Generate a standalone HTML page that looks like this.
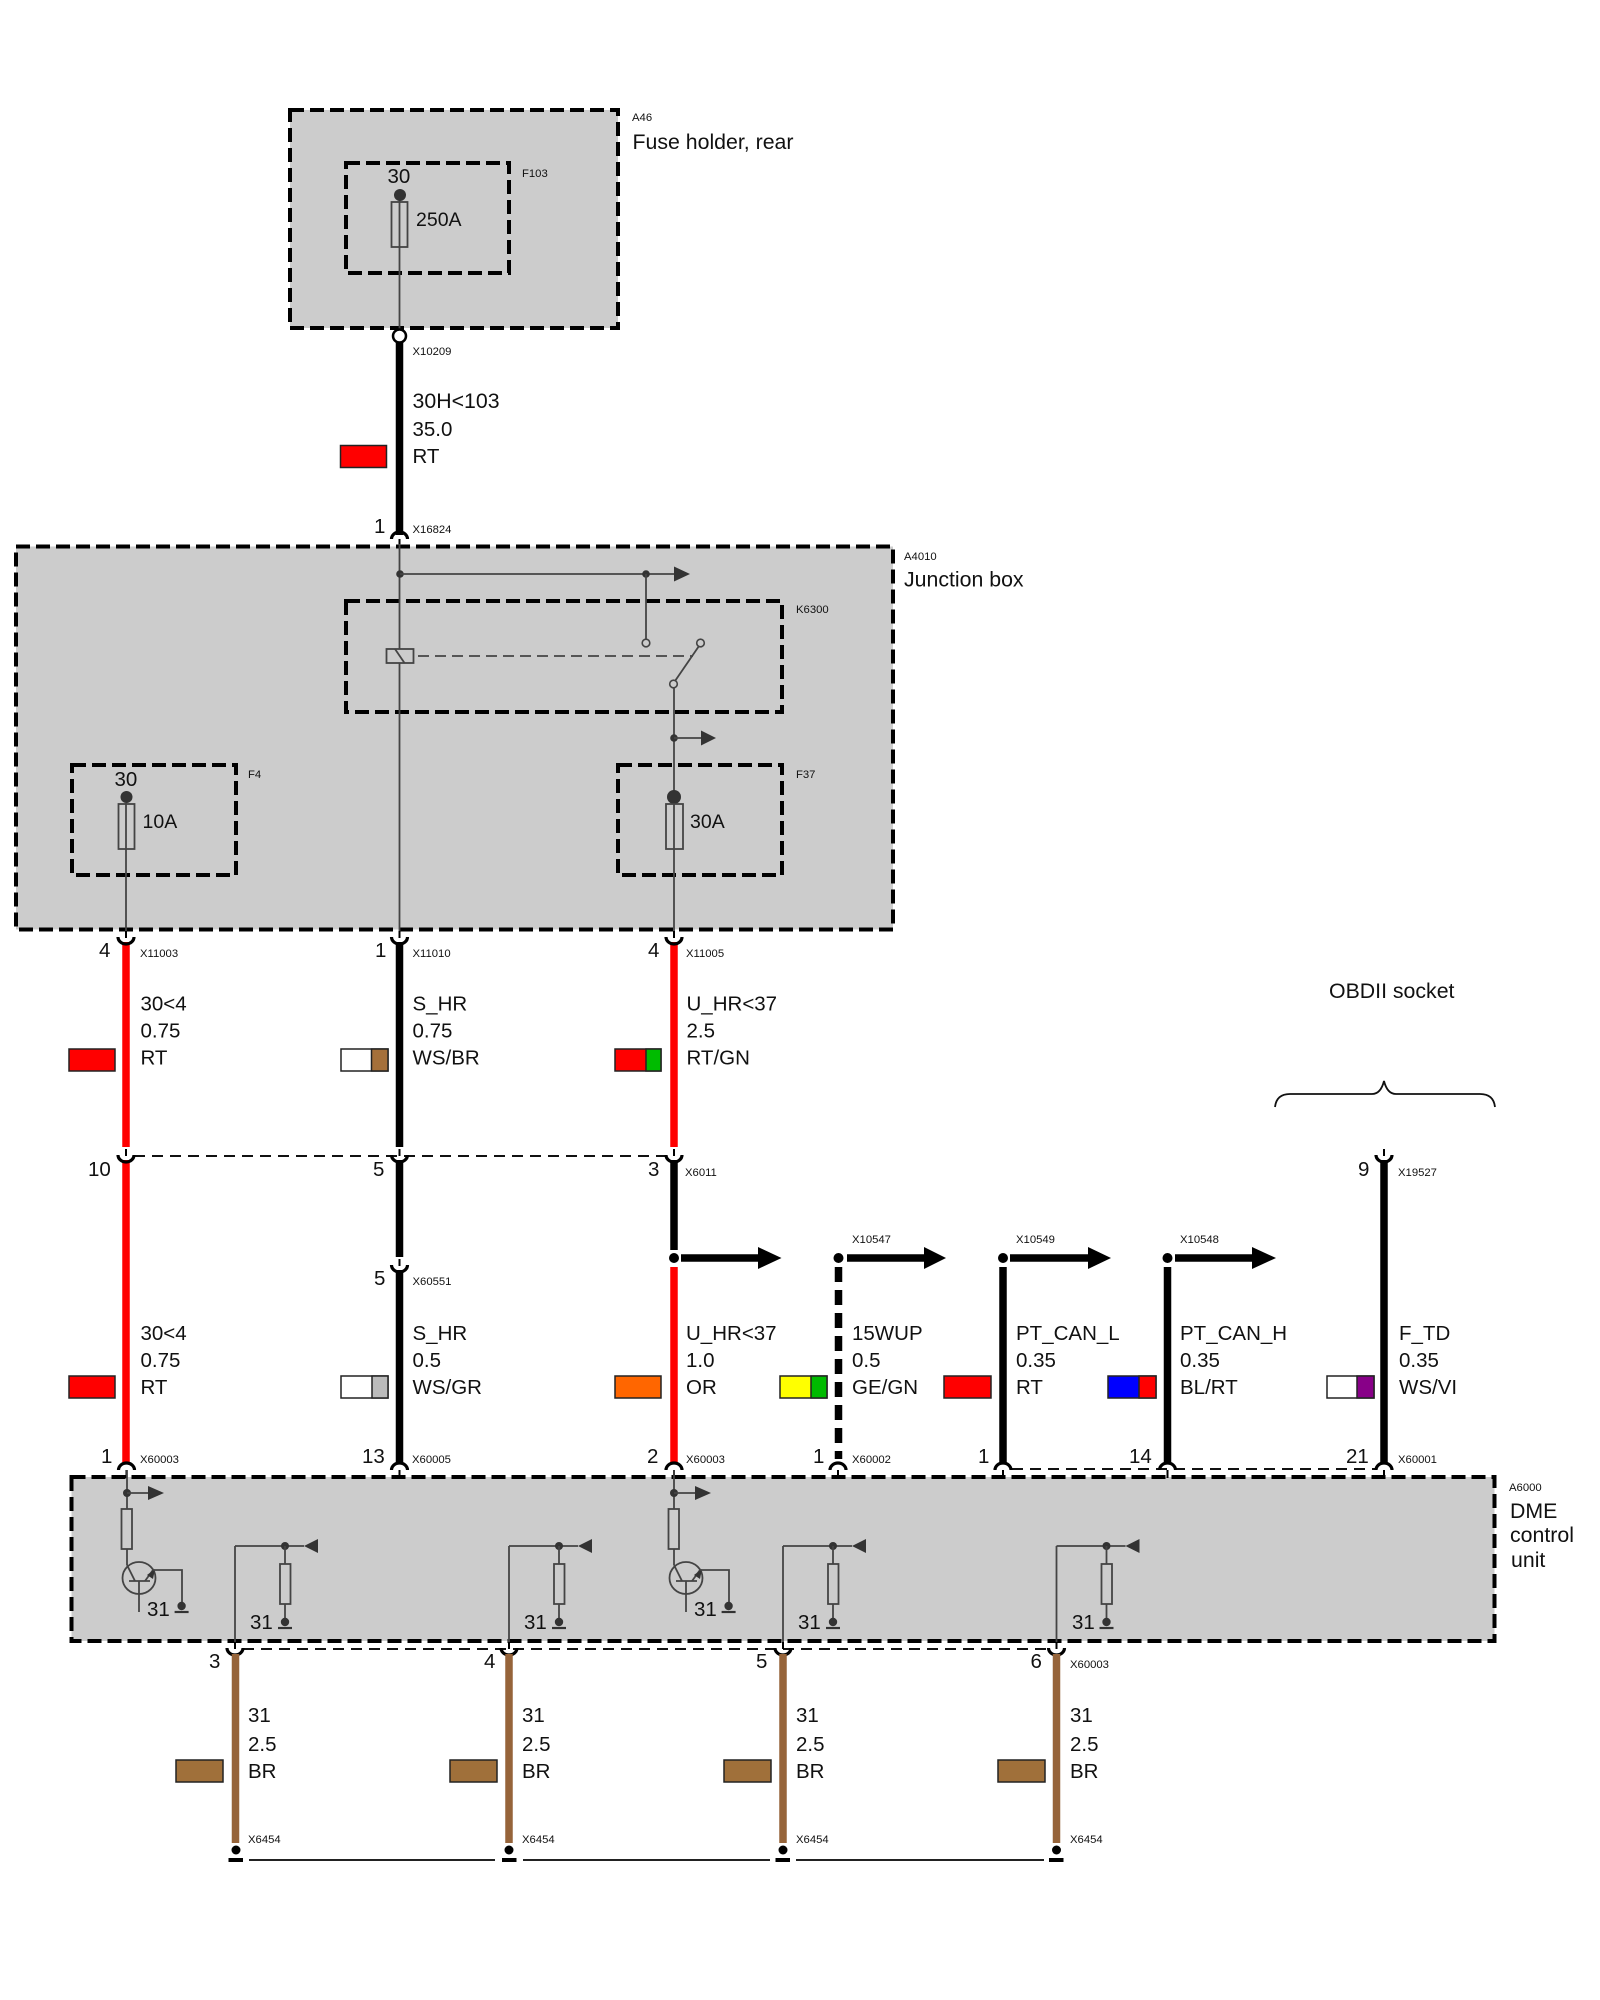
<!DOCTYPE html>
<html><head><meta charset="utf-8"><style>
html,body{margin:0;padding:0;background:#fff;width:1600px;height:2000px;overflow:hidden}
svg{display:block}
text{font-family:"Liberation Sans",sans-serif;font-size:20.5px;fill:#111}
text.s{font-size:11.3px}
text.b{font-size:21.3px}
text.m{font-size:19.5px}
.box{fill:#ccc;stroke:#000;stroke-width:4;stroke-dasharray:14 6}
.in{fill:none;stroke:#000;stroke-width:4;stroke-dasharray:14 6}
.t{stroke:#444;stroke-width:1.8;fill:none}
.f{stroke:#444;stroke-width:1.8;fill:#ccc}
.d{fill:#333}
.sw{stroke:#222;stroke-width:1.5}
.cn{fill:none;stroke:#000;stroke-width:3.2}
.tk{stroke:#000;stroke-width:2}
.dl{stroke:#111;stroke-width:2;stroke-dasharray:11 7}
</style></head><body>
<svg xmlns="http://www.w3.org/2000/svg" width="1600" height="2000" viewBox="0 0 1600 2000">
<defs>
<g id="cu"><path class="cn" d="M-8,0A8,7 0 0 0 8,0"/><line class="tk" x1="0" y1="-6" x2="0" y2="1"/></g>
<g id="cd"><path class="cn" d="M-8,0A8,7 0 0 1 8,0"/><line class="tk" x1="0" y1="0" x2="0" y2="8"/></g>
<g id="gn"><circle class="d" cx="0" cy="0" r="4.2"/><line x1="-7" y1="6" x2="7" y2="6" stroke="#333" stroke-width="2.2"/></g>
<g id="el">
<line class="t" x1="0" y1="1546" x2="0" y2="1646"/>
<line class="t" x1="0" y1="1546" x2="69" y2="1546"/>
<circle class="d" cx="50" cy="1546" r="4"/>
<polygon fill="#333" points="69,1546 83,1539 83,1553"/>
<line class="t" x1="50" y1="1546" x2="50" y2="1622"/>
<rect class="f" x="45" y="1564" width="10.5" height="40"/>
<use href="#gn" x="50" y="1622"/>
</g>
<g id="tr">
<line class="t" x1="127" y1="1470" x2="127" y2="1509"/>
<circle class="d" cx="127" cy="1493" r="4"/>
<line class="t" x1="127" y1="1493" x2="150" y2="1493"/>
<polygon fill="#333" points="148,1486 164,1493 148,1500"/>
<rect class="f" x="121.5" y="1509" width="10.5" height="40"/>
<line class="t" x1="127" y1="1549" x2="127" y2="1565"/>
<ellipse class="t" cx="139" cy="1578" rx="16.5" ry="16"/>
<line class="t" x1="127" y1="1565" x2="135" y2="1581"/>
<line class="t" x1="129" y1="1581" x2="150" y2="1581"/>
<line class="t" x1="145" y1="1581" x2="153" y2="1570"/>
<polygon fill="#333" points="155,1569 153,1579 147,1575"/>
<polyline class="t" points="153,1570 182,1570 182,1606"/>
<line class="t" x1="139" y1="1581" x2="139" y2="1612"/>
<use href="#gn" x="181.6" y="1606"/>
</g>
</defs>

<!-- A46 -->
<rect class="box" x="290" y="110" width="328" height="218"/>
<rect class="in" x="346" y="163" width="163" height="110"/>
<line class="t" x1="399.500" y1="195" x2="399.500" y2="330"/>
<circle class="d" cx="400" cy="195" r="6"/>
<rect class="t" x="391.500" y="202" width="16" height="45"/>
<text x="387.500" y="183">30</text>
<text class="m" x="416" y="226">250A</text>
<text class="s" x="522" y="177">F103</text>
<text class="s" x="632" y="121">A46</text>
<text class="b" x="632.500" y="149">Fuse holder, rear</text>

<line x1="399.500" y1="340" x2="399.500" y2="535" stroke="#000" stroke-width="7.500"/>
<circle cx="399.500" cy="336" r="6.500" fill="#fff" stroke="#000" stroke-width="2.500"/>
<text class="s" x="412.500" y="355">X10209</text>
<text class="b" x="412.500" y="408">30H&lt;103</text>
<text x="412.500" y="436">35.0</text>
<text x="412.500" y="463">RT</text>
<rect class="sw" x="340.500" y="445.500" width="46" height="22" fill="#f00"/>
<text x="374" y="533">1</text>
<text class="s" x="412.500" y="533">X16824</text>

<!-- A4010 -->
<rect class="box" x="16" y="546.500" width="877" height="383"/>
<use href="#cd" x="399.500" y="539"/>
<rect class="in" x="346" y="601" width="436" height="111"/>
<rect class="in" x="72" y="765" width="164" height="110"/>
<rect class="in" x="618" y="765" width="164" height="110"/>
<line class="t" x1="399.500" y1="544" x2="399.500" y2="935"/>
<circle class="d" cx="400" cy="574" r="3.800"/>
<line class="t" x1="400" y1="574" x2="675" y2="574"/>
<polygon fill="#333" points="674,566.500 690,574 674,581.500"/>
<circle class="d" cx="646" cy="574" r="3.800"/>
<line class="t" x1="646" y1="574" x2="646" y2="639"/>
<circle cx="646" cy="643" r="3.800" fill="#ccc" stroke="#444" stroke-width="1.600"/>
<circle cx="700.500" cy="643" r="3.800" fill="#ccc" stroke="#444" stroke-width="1.600"/>
<line class="t" x1="699" y1="646" x2="675" y2="681"/>
<circle cx="673.500" cy="684" r="3.800" fill="#ccc" stroke="#444" stroke-width="1.600"/>
<line class="t" x1="674" y1="688" x2="674" y2="935"/>
<rect class="f" x="386.500" y="649" width="27" height="14"/>
<line class="t" x1="395" y1="649" x2="404.500" y2="663"/>
<line x1="418" y1="656" x2="693" y2="656" stroke="#444" stroke-width="1.800" stroke-dasharray="11 6"/>
<circle class="d" cx="674" cy="738" r="3.800"/>
<line class="t" x1="674" y1="738" x2="703" y2="738"/>
<polygon fill="#333" points="701,730.500 716,738 701,745.500"/>
<!-- F4 -->
<circle class="d" cx="126.500" cy="797" r="6"/>
<rect class="t" x="118.500" y="804" width="16" height="45"/>
<line class="t" x1="126" y1="803" x2="126" y2="935"/>
<text x="114.500" y="786">30</text>
<text class="m" x="142.500" y="828">10A</text>
<text class="s" x="248" y="778">F4</text>
<!-- F37 -->
<circle class="d" cx="674" cy="797" r="7"/>
<rect class="t" x="666" y="804" width="17" height="45"/>
<text class="m" x="690" y="828">30A</text>
<text class="s" x="796" y="778">F37</text>
<text class="s" x="796" y="613">K6300</text>
<text class="s" x="904" y="560">A4010</text>
<text class="b" x="904" y="586.500">Junction box</text>

<!-- wires row 1 -->
<line x1="126" y1="942" x2="126" y2="1147" stroke="#f00" stroke-width="7.500"/>
<line x1="399.500" y1="942" x2="399.500" y2="1147" stroke="#000" stroke-width="7.500"/>
<line x1="674" y1="942" x2="674" y2="1147" stroke="#f00" stroke-width="7.500"/>
<use href="#cu" x="126" y="937"/>
<use href="#cu" x="399.500" y="937"/>
<use href="#cu" x="674" y="937"/>
<text x="99" y="957">4</text><text class="s" x="140" y="957">X11003</text>
<text x="375" y="957">1</text><text class="s" x="412.500" y="957">X11010</text>
<text x="648" y="957">4</text><text class="s" x="686" y="957">X11005</text>

<text x="140.500" y="1010.500">30&lt;4</text><text x="140.500" y="1037.500">0.75</text><text x="140.500" y="1064.500">RT</text>
<rect class="sw" x="69" y="1049" width="46" height="22" fill="#f00"/>
<text x="412.500" y="1010.500">S_HR</text><text x="412.500" y="1037.500">0.75</text><text x="412.500" y="1064.500">WS/BR</text>
<rect class="sw" x="341" y="1049" width="47" height="22" fill="#fff"/><rect class="sw" x="371.500" y="1049" width="16.500" height="22" fill="#a5703a"/>
<text x="686.500" y="1010.500">U_HR&lt;37</text><text x="686.500" y="1037.500">2.5</text><text x="686.500" y="1064.500">RT/GN</text>
<rect class="sw" x="615" y="1049" width="46" height="22" fill="#f00"/><rect class="sw" x="646" y="1049" width="15" height="22" fill="#0b0"/>

<!-- middle -->
<line class="dl" x1="134" y1="1156" x2="666" y2="1156"/>
<line x1="126" y1="1160" x2="126" y2="1463" stroke="#f00" stroke-width="7.500"/>
<line x1="399.500" y1="1160" x2="399.500" y2="1257" stroke="#000" stroke-width="7.500"/>
<line x1="674" y1="1160" x2="674" y2="1250" stroke="#000" stroke-width="7.500"/>
<use href="#cu" x="126" y="1155"/>
<use href="#cu" x="399.500" y="1155"/>
<use href="#cu" x="674" y="1155"/>
<text x="88" y="1176">10</text><text x="373" y="1176">5</text><text x="648" y="1176">3</text>
<text class="s" x="685" y="1176">X6011</text>

<use href="#cu" x="399.500" y="1265"/>
<line x1="399.500" y1="1270" x2="399.500" y2="1463" stroke="#000" stroke-width="7.500"/>
<text x="374" y="1285">5</text><text class="s" x="412.500" y="1285">X60551</text>

<!-- branch arrows -->
<circle cx="674" cy="1258" r="5" fill="#000"/>
<line x1="681" y1="1258" x2="760" y2="1258" stroke="#000" stroke-width="7.500"/>
<polygon points="758,1247 781.500,1258 758,1269"/>
<line x1="674" y1="1267" x2="674" y2="1463" stroke="#f00" stroke-width="7.500"/>
<circle cx="838.500" cy="1258" r="5" fill="#000"/>
<line x1="847" y1="1258" x2="926" y2="1258" stroke="#000" stroke-width="7.500"/>
<polygon points="924,1247 946,1258 924,1269"/>
<line x1="838.500" y1="1267" x2="838.500" y2="1459" stroke="#000" stroke-width="7.500" stroke-dasharray="15 8"/>
<circle cx="1003" cy="1258" r="5" fill="#000"/>
<line x1="1010" y1="1258" x2="1090" y2="1258" stroke="#000" stroke-width="7.500"/>
<polygon points="1088,1247 1111,1258 1088,1269"/>
<line x1="1003" y1="1267" x2="1003" y2="1463" stroke="#000" stroke-width="7.500"/>
<circle cx="1167.500" cy="1258" r="5" fill="#000"/>
<line x1="1175" y1="1258" x2="1254" y2="1258" stroke="#000" stroke-width="7.500"/>
<polygon points="1252,1247 1276,1258 1252,1269"/>
<line x1="1167.500" y1="1267" x2="1167.500" y2="1463" stroke="#000" stroke-width="7.500"/>
<text class="s" x="852" y="1243">X10547</text>
<text class="s" x="1016" y="1243">X10549</text>
<text class="s" x="1180" y="1243">X10548</text>

<!-- OBD -->
<text class="b" x="1329" y="998">OBDII socket</text>
<path d="M1275,1107C1276,1098 1281,1094 1290,1094L1372,1094C1378,1094 1382,1089 1384,1081C1386,1089 1390,1094 1396,1094L1480,1094C1489,1094 1494,1098 1495,1107" fill="none" stroke="#111" stroke-width="1.800"/>
<use href="#cu" x="1384" y="1155"/>
<line x1="1384" y1="1160" x2="1384" y2="1463" stroke="#000" stroke-width="7.500"/>
<text x="1358" y="1176">9</text><text class="s" x="1398" y="1176">X19527</text>

<!-- lower labels -->
<text x="140.500" y="1340">30&lt;4</text><text x="140.500" y="1367">0.75</text><text x="140.500" y="1394">RT</text>
<rect class="sw" x="69" y="1376" width="46" height="22" fill="#f00"/>
<text x="412.500" y="1340">S_HR</text><text x="412.500" y="1367">0.5</text><text x="412.500" y="1394">WS/GR</text>
<rect class="sw" x="341" y="1376" width="47" height="22" fill="#fff"/><rect class="sw" x="372" y="1376" width="16" height="22" fill="#bbb"/>
<text x="686" y="1340">U_HR&lt;37</text><text x="686" y="1367">1.0</text><text x="686" y="1394">OR</text>
<rect class="sw" x="615" y="1376" width="46" height="22" fill="#f60"/>
<text x="852" y="1340">15WUP</text><text x="852" y="1367">0.5</text><text x="852" y="1394">GE/GN</text>
<rect class="sw" x="780" y="1376" width="47" height="22" fill="#ff0"/><rect class="sw" x="811" y="1376" width="16" height="22" fill="#0b0"/>
<text x="1016" y="1340">PT_CAN_L</text><text x="1016" y="1367">0.35</text><text x="1016" y="1394">RT</text>
<rect class="sw" x="944" y="1376" width="47" height="22" fill="#f00"/>
<text x="1180" y="1340">PT_CAN_H</text><text x="1180" y="1367">0.35</text><text x="1180" y="1394">BL/RT</text>
<rect class="sw" x="1108" y="1376" width="48" height="22" fill="#00f"/><rect class="sw" x="1139" y="1376" width="17" height="22" fill="#f00"/>
<text x="1399" y="1340">F_TD</text><text x="1399" y="1367">0.35</text><text x="1399" y="1394">WS/VI</text>
<rect class="sw" x="1327" y="1376" width="47" height="22" fill="#fff"/><rect class="sw" x="1357" y="1376" width="17" height="22" fill="#808"/>

<!-- A6000 -->
<rect class="box" x="71.500" y="1477" width="1423" height="164"/>
<line class="dl" x1="1012" y1="1469" x2="1376" y2="1469"/>
<use href="#cd" x="126.500" y="1470"/><use href="#cd" x="399.500" y="1470"/><use href="#cd" x="674" y="1470"/>
<use href="#cd" x="838" y="1470"/><use href="#cd" x="1003" y="1470"/><use href="#cd" x="1167.500" y="1470"/><use href="#cd" x="1384" y="1470"/>
<text x="101" y="1463">1</text><text class="s" x="140" y="1463">X60003</text>
<text x="362" y="1463">13</text><text class="s" x="412" y="1463">X60005</text>
<text x="647" y="1463">2</text><text class="s" x="686" y="1463">X60003</text>
<text x="813" y="1463">1</text><text class="s" x="852" y="1463">X60002</text>
<text x="978" y="1463">1</text>
<text x="1129" y="1463">14</text>
<text x="1346" y="1463">21</text><text class="s" x="1398" y="1463">X60001</text>
<text class="s" x="1509" y="1491">A6000</text>
<text class="b" x="1510" y="1518">DME</text><text class="b" x="1510" y="1542">control</text><text class="b" x="1511" y="1567">unit</text>

<use href="#tr" x="0" y="0"/>
<use href="#tr" x="547" y="0"/>
<use href="#el" x="235" y="0"/>
<use href="#el" x="509" y="0"/>
<use href="#el" x="783" y="0"/>
<use href="#el" x="1056.500" y="0"/>
<text x="147" y="1616">31</text><text x="694" y="1616">31</text>
<text x="250" y="1629">31</text><text x="524" y="1629">31</text><text x="798" y="1629">31</text><text x="1072" y="1629">31</text>

<!-- bottom -->
<line class="dl" x1="243" y1="1649" x2="1048" y2="1649"/>
<use href="#cu" x="235" y="1648"/><use href="#cu" x="509" y="1648"/><use href="#cu" x="783" y="1648"/><use href="#cu" x="1056.500" y="1648"/>
<g stroke="#96643a" stroke-width="7.500">
<line x1="235.500" y1="1654" x2="235.500" y2="1843"/><line x1="509" y1="1654" x2="509" y2="1843"/>
<line x1="783" y1="1654" x2="783" y2="1843"/><line x1="1056.500" y1="1654" x2="1056.500" y2="1843"/>
</g>
<text x="209" y="1668">3</text><text x="484" y="1668">4</text><text x="756" y="1668">5</text><text x="1030.500" y="1668">6</text>
<text class="s" x="1070" y="1668">X60003</text>

<text x="248" y="1722">31</text><text x="248" y="1751">2.5</text><text x="248" y="1778">BR</text>
<text x="522" y="1722">31</text><text x="522" y="1751">2.5</text><text x="522" y="1778">BR</text>
<text x="796" y="1722">31</text><text x="796" y="1751">2.5</text><text x="796" y="1778">BR</text>
<text x="1070" y="1722">31</text><text x="1070" y="1751">2.5</text><text x="1070" y="1778">BR</text>
<g fill="#a0703a">
<rect class="sw" x="176" y="1760" width="47" height="22"/><rect class="sw" x="450" y="1760" width="47" height="22"/>
<rect class="sw" x="724" y="1760" width="47" height="22"/><rect class="sw" x="998" y="1760" width="47" height="22"/>
</g>
<text class="s" x="248" y="1843">X6454</text><text class="s" x="522" y="1843">X6454</text><text class="s" x="796" y="1843">X6454</text><text class="s" x="1070" y="1843">X6454</text>
<g fill="#000">
<circle cx="236" cy="1850" r="4.500"/><circle cx="509" cy="1850" r="4.500"/><circle cx="783" cy="1850" r="4.500"/><circle cx="1056.500" cy="1850" r="4.500"/>
<rect x="228.500" y="1858" width="14.500" height="4"/><rect x="502" y="1858" width="14.500" height="4"/><rect x="775.500" y="1858" width="14.500" height="4"/><rect x="1049" y="1858" width="14.500" height="4"/>
</g>
<g stroke="#222" stroke-width="2">
<line x1="249" y1="1860" x2="495" y2="1860"/><line x1="523" y1="1860" x2="770" y2="1860"/><line x1="796" y1="1860" x2="1044" y2="1860"/>
</g>
</svg>
</body></html>
